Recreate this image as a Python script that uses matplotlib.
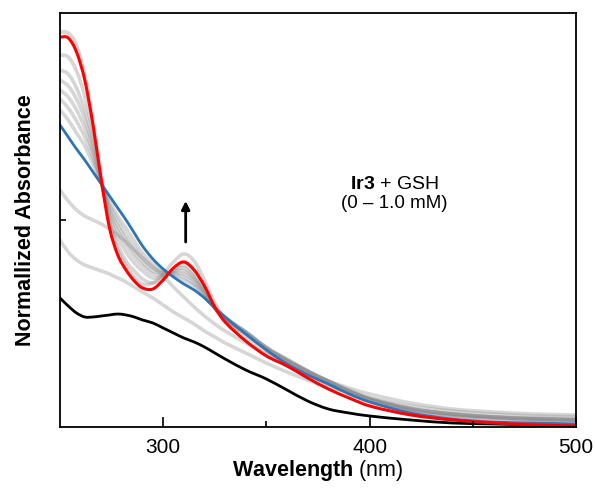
import numpy as np
import matplotlib
matplotlib.use('Agg')
import matplotlib.pyplot as plt
from matplotlib.path import Path
from matplotlib.patches import PathPatch

plt.rcParams['font.family'] = ['Liberation Sans', 'DejaVu Sans']
plt.rcParams['mathtext.fontset'] = 'custom'
plt.rcParams['mathtext.rm'] = 'Liberation Sans'
plt.rcParams['mathtext.bf'] = 'Liberation Sans:bold'

# wavelength grid (nm)
wl = [250, 254, 258, 262, 266, 270, 274, 278, 282, 286, 290, 295, 300, 305, 310,
      315, 320, 325, 330, 340, 350, 360, 370, 380, 390, 400, 420, 440, 460, 480, 500]

# normalized absorbance (arbitrary units, axis top = 414)
black = [129, 121, 114, 110, 110, 111, 112, 113, 112, 110, 107, 104, 99, 94, 89,
         85, 80, 74, 68, 57, 48, 37, 26, 18, 14, 11, 7, 4, 3, 2, 1]
blue = [302, 290, 278, 267, 255, 243, 231, 219, 207, 194, 181, 168, 158, 150, 143,
        137, 129, 119, 110, 93, 77, 63, 52, 43, 33, 25, 14, 8, 5, 4, 3]
red = [390, 389, 375, 347, 302, 247, 199, 172, 157, 146, 139, 138, 147, 159, 165,
       157, 141, 120, 105, 86, 71, 61, 49, 38, 29, 21, 12, 7, 4, 2, 1]

gray_a = [237, 226, 217, 211, 207, 203, 198, 192, 185, 177, 169, 160, 151, 140, 130,
          120, 111, 103, 96, 84, 73, 63, 54, 46, 39, 33, 24, 18, 15, 13, 12]
gray_b = [187, 175, 167, 162, 159, 156, 153, 149, 145, 140, 135, 129, 122, 115, 109,
          103, 96, 90, 84, 74, 64, 55, 47, 40, 35, 29, 21, 16, 13, 11, 10]
gray_1 = [317, 307, 294, 281, 263, 244, 226, 211, 199, 186, 174, 163, 156, 151, 147,
          141, 131, 119, 110, 95, 79, 66, 55, 45, 35, 27, 17, 11, 8, 7, 6]
gray_2 = [328, 319, 306, 290, 269, 244, 222, 206, 192, 180, 169, 159, 155, 153, 150,
          143, 132, 119, 109, 95, 79, 66, 55, 46, 36, 28, 17, 12, 9, 7, 6]
gray_3 = [337, 330, 317, 299, 274, 245, 218, 201, 187, 175, 165, 156, 154, 154, 153,
          146, 134, 119, 109, 95, 80, 67, 56, 46, 36, 28, 18, 13, 10, 8, 7]
gray_4 = [347, 341, 328, 308, 279, 245, 215, 196, 182, 170, 161, 153, 152, 155, 156,
          148, 135, 119, 108, 94, 79, 67, 56, 46, 36, 28, 18, 13, 10, 8, 7]
gray_5 = [357, 353, 339, 317, 285, 246, 211, 190, 175, 164, 156, 149, 151, 156, 159,
          150, 136, 119, 107, 95, 79, 68, 56, 46, 37, 29, 19, 13, 10, 9, 8]
gray_6 = [372, 370, 356, 331, 293, 246, 206, 182, 166, 156, 148, 144, 149, 157, 162,
          153, 137, 120, 106, 93, 78, 67, 56, 45, 36, 28, 18, 13, 10, 8, 7]
gray_7 = [395, 394, 382, 352, 307, 252, 205, 177, 161, 150, 143, 144, 153, 165, 173,
          166, 147, 124, 109, 91, 76, 64, 53, 43, 34, 27, 16, 11, 9, 8, 7]

grays = [gray_a, gray_b, gray_1, gray_2, gray_3, gray_4, gray_5, gray_6, gray_7]


def smooth_line(ax, x, y, **kw):
    # draw through the points with cubic Hermite (Bezier) segments
    x = np.asarray(x, float)
    y = np.asarray(y, float)
    n = len(x)
    m = np.zeros(n)
    m[0] = (y[1] - y[0]) / (x[1] - x[0])
    m[-1] = (y[-1] - y[-2]) / (x[-1] - x[-2])
    m[1:-1] = (y[2:] - y[:-2]) / (x[2:] - x[:-2])
    verts = [(x[0], y[0])]
    codes = [Path.MOVETO]
    for i in range(n - 1):
        h = x[i + 1] - x[i]
        verts += [(x[i] + h / 3, y[i] + m[i] * h / 3),
                  (x[i + 1] - h / 3, y[i + 1] - m[i + 1] * h / 3),
                  (x[i + 1], y[i + 1])]
        codes += [Path.CURVE4] * 3
    patch = PathPatch(Path(verts, codes), fill=False, capstyle='round',
                      joinstyle='round', **kw)
    ax.add_patch(patch)


fig = plt.figure(figsize=(5.95, 4.9), dpi=100)
ax = fig.add_axes([0.1008, 0.1286, 0.8672, 0.8449])

for g in grays:
    smooth_line(ax, wl, g, edgecolor='0.55', alpha=0.35, lw=2.6)
smooth_line(ax, wl, black, edgecolor='black', lw=2.0)
smooth_line(ax, wl, blue, edgecolor='#2e75b6', lw=2.0)
smooth_line(ax, wl, red, edgecolor='#ff0000', lw=2.2)

ax.annotate('', xy=(310.9, 226), xytext=(310.9, 185),
            arrowprops=dict(arrowstyle='-|>', color='black', lw=2.0,
                            mutation_scale=12, shrinkA=0, shrinkB=0))

ax.text(411.8, 242, r'$\mathbf{Ir3}$ + GSH', ha='center', va='center', fontsize=14)
ax.text(411.8, 223, '(0 \u2013 1.0 mM)', ha='center', va='center', fontsize=13.5)

ax.set_xlim(250, 500)
ax.set_ylim(0, 414)
ax.set_xticks([300, 400, 500])
ax.set_xticks([350, 450], minor=True)
ax.set_yticks([207])
ax.set_yticklabels([])
ax.tick_params(axis='x', which='major', direction='in', length=7, width=1.2,
               labelsize=15, pad=8)
ax.tick_params(axis='x', which='minor', direction='in', length=4, width=1.2)
ax.tick_params(axis='y', which='major', direction='in', length=4, width=1.2)
for s in ax.spines.values():
    s.set_linewidth(1.3)

ax.set_xlabel(r'$\mathbf{Wavelength}$ (nm)', fontsize=15.5, labelpad=1)
ax.set_ylabel('Normallized Absorbance', fontsize=15.5, fontweight='bold', labelpad=14)

fig.savefig('out.png', dpi=100)
